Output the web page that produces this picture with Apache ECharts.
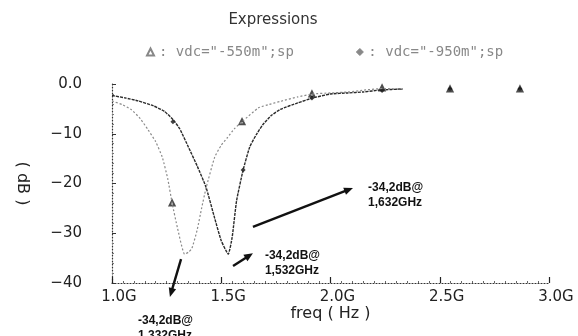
<!DOCTYPE html>
<html>
<head>
<meta charset="utf-8">
<script src="https://cdn.jsdelivr.net/npm/echarts@6/dist/echarts.min.js"></script>
<style>
  html, body { margin: 0; padding: 0; background: #fff; }
  #chart { width: 578px; height: 336px; }
</style>
</head>
<body>
<div id="chart"></div>
<script>
// S-parameter magnitude (dB) versus frequency (GHz) for two bias points
const seriesNames = ['vdc="-550m";sp', 'vdc="-950m";sp'];
const xTickLabels = ['1.0G', '1.5G', '2.0G', '2.5G', '3.0G'];
const yTickLabels = ['0.0', '−10', '−20', '−30', '−40'];

// vdc = -550m : [freq GHz, dB]
const curve550 = [
  [1.00, -3.4], [1.05, -4.2], [1.09, -5.2], [1.13, -7.0], [1.165, -9.2],
  [1.20, -11.6], [1.23, -14.7], [1.255, -19.0], [1.275, -23.9], [1.30, -29.0],
  [1.332, -34.2], [1.35, -33.8], [1.366, -33.0], [1.39, -29.3], [1.41, -25.0],
  [1.43, -21.0], [1.47, -14.7], [1.50, -12.3], [1.53, -10.7], [1.56, -9.0],
  [1.60, -7.4], [1.67, -4.8], [1.72, -4.1], [1.77, -3.5], [1.85, -2.6],
  [1.92, -2.0], [2.00, -1.8], [2.08, -1.6], [2.16, -1.2], [2.24, -0.9], [2.33, -1.1]
];

// vdc = -950m : [freq GHz, dB]
const curve950 = [
  [1.00, -2.3], [1.06, -2.8], [1.12, -3.4], [1.19, -4.4], [1.24, -5.5],
  [1.28, -7.2], [1.31, -9.0], [1.35, -12.7], [1.39, -16.5], [1.43, -20.7],
  [1.47, -27.0], [1.50, -31.5], [1.532, -34.2], [1.55, -30.8], [1.57, -23.5],
  [1.60, -17.3], [1.63, -12.7], [1.66, -10.2], [1.69, -8.2], [1.73, -6.3],
  [1.77, -5.1], [1.85, -3.8], [1.92, -2.8], [2.00, -2.0], [2.08, -1.8],
  [2.15, -1.6], [2.23, -1.2], [2.33, -1.0]
];

// trace marker positions
const markers550 = [[1.275, -23.9], [1.595, -7.6], [1.915, -2.0], [2.236, -0.8], [2.547, -1.0], [2.867, -1.0]];
const markers950 = [[1.279, -7.6], [1.600, -17.3], [1.915, -2.8], [2.236, -1.3], [2.547, -1.0], [2.867, -1.0]];

// annotations: text, text anchor (top-left), arrow tail, arrow head — all in data units
const noteTexts = ['-34,2dB@\n1,332GHz', '-34,2dB@\n1,532GHz', '-34,2dB@\n1,632GHz'];
const noteAnchors = [[1.119, -46.0], [1.700, -33.0], [2.172, -19.3]];
const arrowTails = [[1.316, -35.2], [1.554, -36.6], [1.645, -28.7]];
const arrowHeads = [[1.265, -42.8], [1.645, -34.0], [2.103, -20.9]];

const chart = echarts.init(document.getElementById('chart'), null, { renderer: 'canvas' });

const tickFont = { fontFamily: 'DejaVu Sans', fontSize: 15, color: '#222' };

chart.setOption({
  animation: false,
  backgroundColor: '#fff',
  title: {
    text: 'Expressions',
    left: 268, top: 8, textAlign: 'center',
    textStyle: { fontFamily: 'DejaVu Sans', fontSize: 15, fontWeight: 'normal', color: '#333' }
  },
  legend: {
    left: 141, top: 40,
    itemWidth: 7, itemHeight: 7, itemGap: 62,
    data: [
      { name: seriesNames[0], icon: 'emptyTriangle' },
      { name: seriesNames[1], icon: 'diamond' }
    ],
    formatter: n => ': ' + n,
    textStyle: { fontFamily: 'DejaVu Sans Mono', fontSize: 14, color: '#888' },
    itemStyle: { color: '#888', borderColor: '#888', borderWidth: 1 }
  },
  grid: { left: 112, right: 29, top: 84, bottom: 53 },
  xAxis: {
    type: 'value', min: 1, max: 3, interval: 0.5,
    name: 'freq ( Hz )', nameLocation: 'middle', nameGap: 23, nameMoveOverlap: false,
    nameTextStyle: { fontFamily: 'DejaVu Sans', fontSize: 16, color: '#222', verticalAlign: 'top' },
    axisLine: { onZero: false, lineStyle: { color: '#333', type: [1, 2], width: 1.2 } },
    axisTick: { inside: true, length: 6, lineStyle: { color: '#222', width: 1.2 } },
    minorTick: { show: true, splitNumber: 10, length: 2, lineStyle: { color: '#666' } },
    splitLine: { show: false },
    axisLabel: Object.assign({
      margin: 7, padding: [0, 0, 0, 14],
      formatter: v => xTickLabels[Math.round((v - 1) / 0.5)]
    }, tickFont)
  },
  yAxis: {
    type: 'value', min: -40, max: 0, interval: 10,
    name: '( dB )', nameLocation: 'middle', nameRotate: -90, nameGap: 82,
    nameTextStyle: { fontFamily: 'DejaVu Sans', fontSize: 16, color: '#222' },
    axisLine: { show: true, onZero: false, lineStyle: { color: '#333', type: [1, 2], width: 1.2 } },
    axisTick: { show: true, inside: true, length: 4, lineStyle: { color: '#333' } },
    minorTick: { show: true, splitNumber: 5, length: 2, lineStyle: { color: '#777' } },
    splitLine: { show: false },
    axisLabel: Object.assign({
      margin: 30, padding: [0, 0, 12, 0],
      formatter: v => yTickLabels[Math.round(-v / 10)]
    }, tickFont)
  },
  series: [
    {
      name: seriesNames[0], type: 'line', data: curve550,
      showSymbol: false, smooth: 0.15,
      lineStyle: { color: '#8a8a8a', width: 1.2, type: [2, 2] },
      itemStyle: { color: '#888' }
    },
    {
      name: seriesNames[1], type: 'line', data: curve950,
      showSymbol: false, smooth: 0.15,
      lineStyle: { color: '#2a2a2a', width: 1.4, type: [3, 1] },
      itemStyle: { color: '#888' }
    },
    {
      name: seriesNames[0], type: 'scatter', data: markers550,
      symbol: 'emptyTriangle', symbolSize: 5,
      itemStyle: { color: '#222', borderColor: '#222', borderWidth: 1 }
    },
    {
      name: seriesNames[1], type: 'scatter', data: markers950,
      symbol: 'diamond', symbolSize: 5,
      itemStyle: { color: '#111' }
    }
  ]
});

// annotation arrows and texts, placed through the grid's own coordinate conversion
function drawNotes() {
  const px = p => chart.convertToPixel({ gridIndex: 0 }, p);
  const elements = [];
  for (let i = 0; i < noteTexts.length; i++) {
    const a = px(arrowTails[i]);
    const b = px(arrowHeads[i]);
    const dx = b[0] - a[0], dy = b[1] - a[1];
    const len = Math.hypot(dx, dy);
    const ux = dx / len, uy = dy / len;
    const nx = -uy, ny = ux;
    const headLen = 9, headHalf = 3.8;
    elements.push({
      type: 'line',
      shape: { x1: a[0], y1: a[1], x2: b[0] - ux * 6, y2: b[1] - uy * 6 },
      style: { stroke: '#111', lineWidth: 2.4 }
    });
    elements.push({
      type: 'polygon',
      shape: { points: [
        [b[0], b[1]],
        [b[0] - ux * headLen + nx * headHalf, b[1] - uy * headLen + ny * headHalf],
        [b[0] - ux * headLen - nx * headHalf, b[1] - uy * headLen - ny * headHalf]
      ] },
      style: { fill: '#111' }
    });
    const t = px(noteAnchors[i]);
    elements.push({
      type: 'text', x: t[0], y: t[1],
      style: {
        text: noteTexts[i], fill: '#111',
        font: 'bold 12px "Liberation Sans"', lineHeight: 15,
        textAlign: 'left', textVerticalAlign: 'top'
      }
    });
  }
  chart.setOption({ graphic: elements });
}
drawNotes();
</script>
</body>
</html>
